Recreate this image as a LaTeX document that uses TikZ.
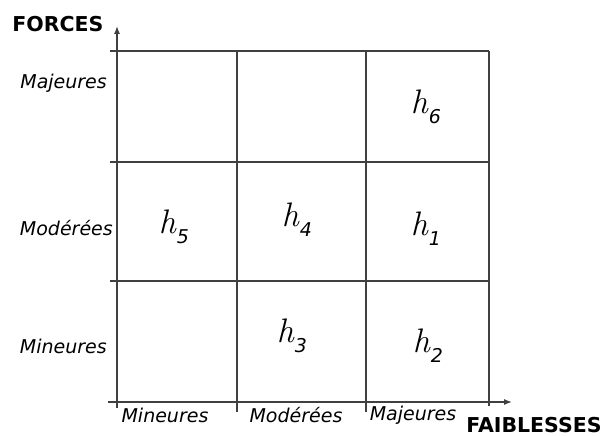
\documentclass[tikz,border=0pt]{standalone}
\usepackage{fontspec}
\setmainfont{DejaVu Sans}
\newfontfamily\hfont{Latin Modern Roman}
\usetikzlibrary{arrows.meta}

% h with an oblique sans subscript
\newcommand{\hcell}[1]{{\hfont\itshape h}\kern1pt\raisebox{-10pt}{\fontsize{19}{19}\selectfont\itshape #1}}

\begin{document}
\begin{tikzpicture}[x=1pt, y=-1pt,
        grid/.style={line width=1.3pt, black!75},
        axis/.style={-{Latex[length=8pt,width=6pt]}, line width=1.3pt, black!75},
        lab/.style={font=\fontsize{19}{22}\selectfont\itshape, inner sep=1pt},
        ttl/.style={font=\fontsize{20.5}{24}\selectfont\bfseries, inner sep=0pt},
        cell/.style={font=\fontsize{34}{36}\selectfont, inner sep=0pt}]
      \useasboundingbox (0,0) rectangle (608,436);
      % axes
      \coordinate (ybot) at (117,408);
      \coordinate (ytop) at (117,26);
      \coordinate (xleft) at (108,402);
      \coordinate (xright) at (512,402);
      \draw[axis] (ybot) -- (ytop);
      \draw[axis] (xleft) -- (xright);
      % grid
      \draw[grid] (110,51) -- (489,51);
      \draw[grid] (110,162) -- (489,162);
      \draw[grid] (110,281) -- (489,281);
      \draw[grid] (237,51) -- (237,412);
      \draw[grid] (366,51) -- (366,412);
      \draw[grid] (489,51) -- (489,406);
      % titles
      \node[ttl] (forces) at (58,24) {FORCES};
      \node[ttl] (faib) at (534,425) {FAIBLESSES};
      % row labels
      \node[lab, anchor=east] (fmaj) at (108,83) {Majeures};
      \node[lab, anchor=east] (fmod) at (114,228) {Modérées};
      \node[lab, anchor=east] (fmin) at (108,346) {Mineures};
      % column labels
      \node[lab] (wmin) at (165,415) {Mineures};
      \node[lab] (wmod) at (296,415) {Modérées};
      \node[lab] (wmaj) at (413,415) {Majeures};
      % cells
      \node[cell] (h6) at (426,107) {\hcell{6}};
      \node[cell] (h5) at (174,227) {\hcell{5}};
      \node[cell] (h4) at (297,220) {\hcell{4}};
      \node[cell] (h1) at (426,229) {\hcell{1}};
      \node[cell] (h3) at (292,336) {\hcell{3}};
      \node[cell] (h2) at (428,346) {\hcell{2}};
    \end{tikzpicture}
\end{document}
